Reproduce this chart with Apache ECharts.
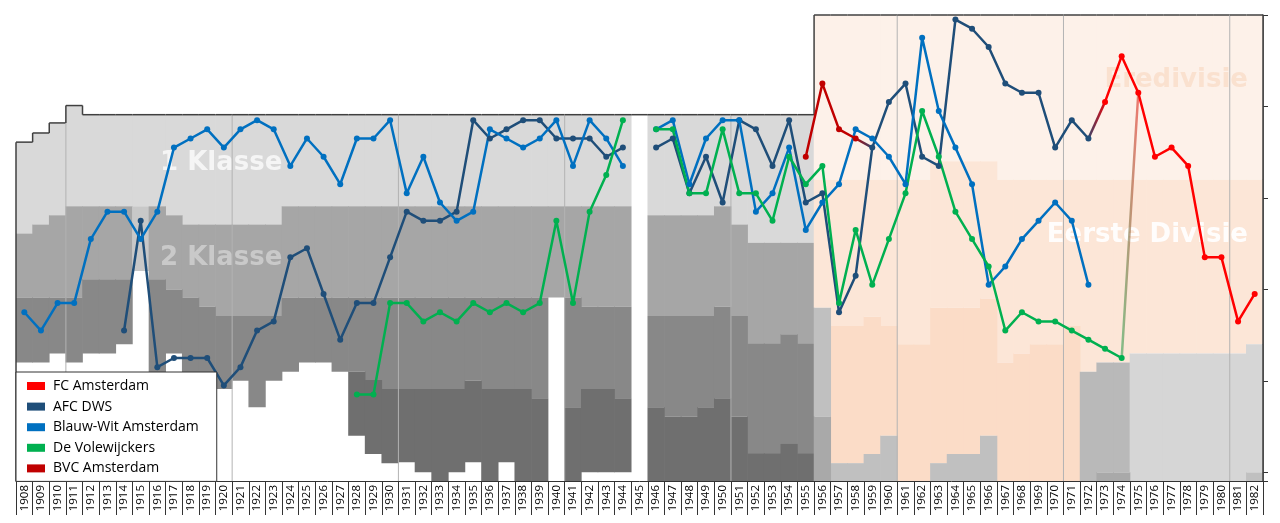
<!DOCTYPE html>
<html><head><meta charset="utf-8">
<script src="https://cdn.jsdelivr.net/npm/echarts@6/dist/echarts.min.js"></script>
<style>html,body{margin:0;padding:0;background:#fff}#c{width:1280px;height:523px}</style>
</head><body><div id="c"></div>
<script>
// ---------- DATA ----------
const years = ['1908','1909','1910','1911','1912','1913','1914','1915','1916','1917',
 '1918','1919','1920','1921','1922','1923','1924','1925','1926','1927',
 '1928','1929','1930','1931','1932','1933','1934','1935','1936','1937',
 '1938','1939','1940','1941','1942','1943','1944','1945','1946','1947',
 '1948','1949','1950','1951','1952','1953','1954','1955','1956','1957',
 '1958','1959','1960','1961','1962','1963','1964','1965','1966','1967',
 '1968','1969','1970','1971','1972','1973','1974','1975','1976','1977',
 '1978','1979','1980','1981','1982'];

// league position (1 = top) per season
const blauwWit = [33,35,32,32,25,22,22,25,22,15,
 14,13,15,13,12,13,17,14,16,19,
 14,14,12,20,16,21,23,22,13,14,
 15,14,12,17,12,14,17,null,13,12,
 19,14,12,12,22,20,15,24,21,19,
 13,14,16,19,3,11,15,19,30,28,
 25,23,21,23,30,null,null,null,null,null,
 null,null,null,null,null];
const afcDws = [null,null,null,null,null,null,35,23,39,38,
 38,38,41,39,35,34,27,26,31,36,
 32,32,27,22,23,23,22,12,14,13,
 12,12,14,14,14,16,15,null,15,14,
 20,16,21,12,13,17,12,21,20,33,
 29,15,10,8,16,17,1,2,4,8,
 9,9,15,12,14,null,null,null,null,null,
 null,null,null,null,null];
const volewijckers = [null,null,null,null,null,null,null,null,null,null,
 null,null,null,null,null,null,null,null,null,null,
 42,42,32,32,34,33,34,32,33,32,
 33,32,23,32,22,18,12,null,13,13,
 20,20,13,20,20,23,16,19,17,32,
 24,30,25,20,11,16,22,25,28,35,
 33,34,34,35,36,37,38,null,null,null,
 null,null,null,null,null];
const bvcAmsterdam = [null,null,null,null,null,null,null,null,null,null,
 null,null,null,null,null,null,null,null,null,null,
 null,null,null,null,null,null,null,null,null,null,
 null,null,null,null,null,null,null,null,null,null,
 null,null,null,null,null,null,null,16,8,13,
 14,null,null,null,null,null,null,null,null,null,
 null,null,null,null,null,null,null,null,null,null,
 null,null,null,null,null];
const fcAmsterdam = [null,null,null,null,null,null,null,null,null,null,
 null,null,null,null,null,null,null,null,null,null,
 null,null,null,null,null,null,null,null,null,null,
 null,null,null,null,null,null,null,null,null,null,
 null,null,null,null,null,null,null,null,null,null,
 null,null,null,null,null,null,null,null,null,null,
 null,null,null,null,null,10,5,9,16,15,
 17,27,27,34,31];

// league structure: top of the pyramid and lower edge of each tier (positions)
const frameTop = [14.4,13.4,12.3,10.4,11.4,11.4,11.4,11.4,11.4,11.4,
 11.4,11.4,11.4,11.4,11.4,11.4,11.4,11.4,11.4,11.4,
 11.4,11.4,11.4,11.4,11.4,11.4,11.4,11.4,11.4,11.4,
 11.4,11.4,11.4,11.4,11.4,11.4,11.4,11.4,11.4,11.4,
 11.4,11.4,11.4,11.4,11.4,11.4,11.4,11.4,0.5,0.5,
 0.5,0.5,0.5,0.5,0.5,0.5,0.5,0.5,0.5,0.5,
 0.5,0.5,0.5,0.5,0.5,0.5,0.5,0.5,0.5,0.5,
 0.5,0.5,0.5,0.5,0.5];
const tier1End = [24.4,23.4,22.4,21.4,21.4,21.4,21.4,21.4,21.4,22.4,
 23.4,23.4,23.4,23.4,23.4,23.4,21.4,21.4,21.4,21.4,
 21.4,21.4,21.4,21.4,21.4,21.4,21.4,21.4,21.4,21.4,
 21.4,21.4,21.4,21.4,21.4,21.4,21.4,null,22.4,22.4,
 22.4,22.4,21.4,23.4,25.4,25.4,25.4,25.4,18.5,18.5,
 18.5,18.5,18.5,18.5,18.5,16.5,16.5,16.5,16.5,18.5,
 18.5,18.5,18.5,18.5,18.5,18.5,18.5,18.5,18.5,18.5,
 18.5,18.5,18.5,18.5,18.5];
const tier2End = [31.4,31.4,31.4,31.4,29.4,29.4,29.4,28.5,29.4,30.5,
 31.4,32.4,33.4,33.4,33.4,33.4,31.4,31.4,31.4,31.4,
 31.4,31.4,31.4,31.4,31.4,31.4,31.4,31.4,31.4,31.4,
 31.4,31.4,31.4,31.4,32.4,32.4,32.4,null,33.4,33.4,
 33.4,33.4,32.4,33.4,36.4,36.4,35.4,36.4,32.5,34.5,
 34.5,33.5,34.5,36.5,36.5,32.5,32.5,32.5,31.5,38.5,
 37.5,36.5,36.5,34.5,39.5,38.5,38.5,37.5,37.5,37.5,
 37.5,37.5,37.5,37.5,36.5];
const tier3End = [38.5,38.5,37.5,38.5,37.5,37.5,36.5,null,40.5,37.5,
 40.5,40.5,41.4,40.5,43.4,40.5,39.5,38.5,38.5,39.5,
 39.5,40.4,41.4,41.4,41.4,41.4,41.4,40.5,41.4,41.4,
 41.4,42.4,null,43.4,41.4,41.4,42.4,null,43.4,44.4,
 44.4,43.4,42.4,44.4,48.4,48.4,47.4,48.4,null,49.5,
 49.5,48.5,46.5,51.45,51.45,49.5,48.5,48.5,46.5,51.45,
 51.45,51.45,51.45,51.45,null,null,null,null,null,null,
 null,null,null,null,null];
const tier4End = [null,null,null,null,null,null,null,null,null,null,
 null,null,null,null,null,null,null,null,null,null,
 46.5,48.5,49.5,49.4,50.5,51.45,50.5,49.4,51.45,49.4,
 51.45,51.45,null,51.45,50.5,50.5,50.5,null,51.45,51.45,
 51.45,51.45,51.45,51.45,51.45,51.45,51.45,51.45,44.4,51.45,
 51.45,51.45,51.45,null,null,51.45,51.45,51.45,51.45,null,
 null,null,null,null,51.45,50.5,50.5,51.45,51.45,51.45,
 51.45,51.45,51.45,51.45,50.5];
const tier5End = [null,null,null,null,null,null,null,null,null,null,
 null,null,null,null,null,null,null,null,null,null,
 null,null,null,null,null,null,null,null,null,null,
 null,null,null,null,null,null,null,null,null,null,
 null,null,null,null,null,null,null,null,51.45,null,
 null,null,null,null,null,null,null,null,null,null,
 null,null,null,null,null,51.45,51.45,null,null,null,
 null,null,null,null,51.45];

const clubNames = ['FC Amsterdam','AFC DWS','Blauw-Wit Amsterdam','De Volewijckers','BVC Amsterdam'];

// ---------- BUILD ----------
const BOTTOM = 51.45;
const chart = echarts.init(document.getElementById('c'));
const clubColors = {'FC Amsterdam':'#ff0000','AFC DWS':'#1f4e79','Blauw-Wit Amsterdam':'#0070c0','De Volewijckers':'#00b050','BVC Amsterdam':'#c00000'};
const clubData = {'FC Amsterdam':fcAmsterdam,'AFC DWS':afcDws,'Blauw-Wit Amsterdam':blauwWit,'De Volewijckers':volewijckers,'BVC Amsterdam':bvcAmsterdam};

function layerColor(k, i) {
  const y = +years[i];
  if (y < 1956) {
    if (k === 1 && y === 1915) return '#c8c8c8';
    return ['#d9d9d9','#a6a6a6','#888888','#6f6f6f','#6f6f6f'][k];
  }
  if (k === 0) return '#fdf1e9';
  if (k === 1) return '#fce6d7';
  if (k === 2) return '#fbdcc7';
  if (k === 3) {
    if (y <= 1966) return '#c0c0c0';
    if (y <= 1974) return '#b9b9b9';
    return '#d6d6d6';
  }
  if (y === 1982) return '#c0c0c0';
  return '#a9a9a9';
}

const bounds = [tier1End, tier2End, tier3End, tier4End, tier5End];
const thick = bounds.map(() => []);
for (let i = 0; i < years.length; i++) {
  let prev = frameTop[i];
  const empty = tier1End[i] == null;
  for (let k = 0; k < bounds.length; k++) {
    const e = bounds[k][i];
    if (empty || e == null) thick[k].push(0);
    else { thick[k].push(+(e - prev).toFixed(3)); prev = e; }
  }
}

const series = [];
series.push({type:'bar', stack:'league', data: frameTop.slice(), barWidth:'104%', silent:true, z:1,
  itemStyle:{color:'rgba(0,0,0,0)'}});
thick.forEach((arr, k) => {
  series.push({type:'bar', stack:'league', data: arr, barWidth:'104%', silent:true, z:1,
    itemStyle:{color: p => layerColor(k, p.dataIndex)}});
});

// frame outline + decade grid lines
series.push({
  type:'custom', z:2, silent:true,
  data: frameTop.map((v, i) => [i, v]),
  encode:{x:0, y:1},
  renderItem: function (params, api) {
    const i = api.value(0);
    const w = api.size([1, 0])[0];
    const c = api.coord([i, frameTop[i]]);
    const x0 = c[0] - w / 2, x1 = c[0] + w / 2, y = c[1];
    const yB = api.coord([i, BOTTOM])[1];
    const st = {stroke:'#404040', lineWidth:1.5};
    const ch = [];
    const yr = +years[i];
    if (i > 0 && yr % 10 === 1) {
      const yp = api.coord([i - 1, frameTop[i - 1]])[1];
      ch.push({type:'line', shape:{x1:x0, y1:Math.max(y, yp), x2:x0, y2:yB}, style:{stroke:'#b3b3b3', lineWidth:1}});
    }
    ch.push({type:'line', shape:{x1:x0, y1:y, x2:x1, y2:y}, style:st});
    if (i === 0) ch.push({type:'line', shape:{x1:x0, y1:y, x2:x0, y2:yB}, style:st});
    else {
      const yp = api.coord([i - 1, frameTop[i - 1]])[1];
      if (Math.abs(yp - y) > 0.1) ch.push({type:'line', shape:{x1:x0, y1:yp, x2:x0, y2:y}, style:st});
    }
    if (i === years.length - 1) ch.push({type:'line', shape:{x1:x1, y1:y, x2:x1, y2:yB}, style:st});
    return {type:'group', children: ch};
  }
});

clubNames.forEach(n => {
  series.push({type:'line', name:n, data: clubData[n], z:3, symbol:'circle', symbolSize:6,
    color: clubColors[n], lineStyle:{width:2.5, color: clubColors[n]}, itemStyle:{color: clubColors[n]},
    connectNulls:false, silent:true});
});

// merger connectors, built from the club series
function connector(fromArr, fromYear, toArr, toYear, c1, c2, op) {
  const d = years.map(() => null);
  const a = years.indexOf(fromYear), b = years.indexOf(toYear);
  d[a] = fromArr[a]; d[b] = toArr[b];
  return {type:'line', data:d, z:3, symbol:'none', silent:true, connectNulls:false,
    lineStyle:{width:2.5, opacity:op,
      color:new echarts.graphic.LinearGradient(0,0,1,0,[{offset:0,color:c1},{offset:1,color:c2}])}};
}
series.push(connector(bvcAmsterdam, '1958', afcDws, '1959', '#c00000', '#1f4e79', 1));
series.push(connector(afcDws, '1972', fcAmsterdam, '1973', '#1f4e79', '#ff0000', 1));
series.push(connector(volewijckers, '1974', fcAmsterdam, '1975', '#00b050', '#ff0000', 0.55));

const txt = (t, x, y, align, fill) => ({type:'text', x:x, y:y, z:2, silent:true,
  style:{text:t, fill:fill, font:'bold 26px "DejaVu Sans"', textAlign:align, align:align,
    textVerticalAlign:'middle', verticalAlign:'middle'}});

chart.setOption({
  animation:false,
  grid:{left:16, right:17, top:15, bottom:42, containLabel:false},
  xAxis:{type:'category', data:years, boundaryGap:true,
    axisLine:{lineStyle:{color:'#333', width:1}},
    axisTick:{show:true, interval:0, length:34, lineStyle:{color:'#333'}},
    axisLabel:{interval:0, rotate:90, fontSize:11.5, fontFamily:'Open Sans', color:'#000', margin:4},
    splitLine:{show:false}},
  yAxis:{type:'value', inverse:true, min:0.5, max:BOTTOM, interval:10, position:'right',
    axisLine:{show:true, lineStyle:{color:'#404040', width:1.5}},
    axisTick:{show:true, length:5, lineStyle:{color:'#333'}},
    axisLabel:{show:false}, splitLine:{show:false}},
  legend:{data:clubNames, orient:'vertical', left:16, top:372, itemWidth:18, itemHeight:8, itemGap:6.6,
    icon:'rect', padding:[7,18,6,11], backgroundColor:'#fff', borderColor:'#333', borderWidth:1,
    textStyle:{fontFamily:'Open Sans', fontSize:14, color:'#000', lineHeight:14, padding:[0,0,0,3]},
    selectedMode:false, z:10},
  graphic:[
    txt('1 Klasse', 160, 163, 'left', 'rgba(255,255,255,0.72)'),
    txt('2 Klasse', 160, 258, 'left', 'rgba(255,255,255,0.4)'),
    txt('Eredivisie', 1248, 80, 'right', 'rgba(245,190,150,0.3)'),
    txt('Eerste Divisie', 1248, 235, 'right', 'rgba(255,255,255,0.92)')
  ],
  series: series
});
</script></body></html>
